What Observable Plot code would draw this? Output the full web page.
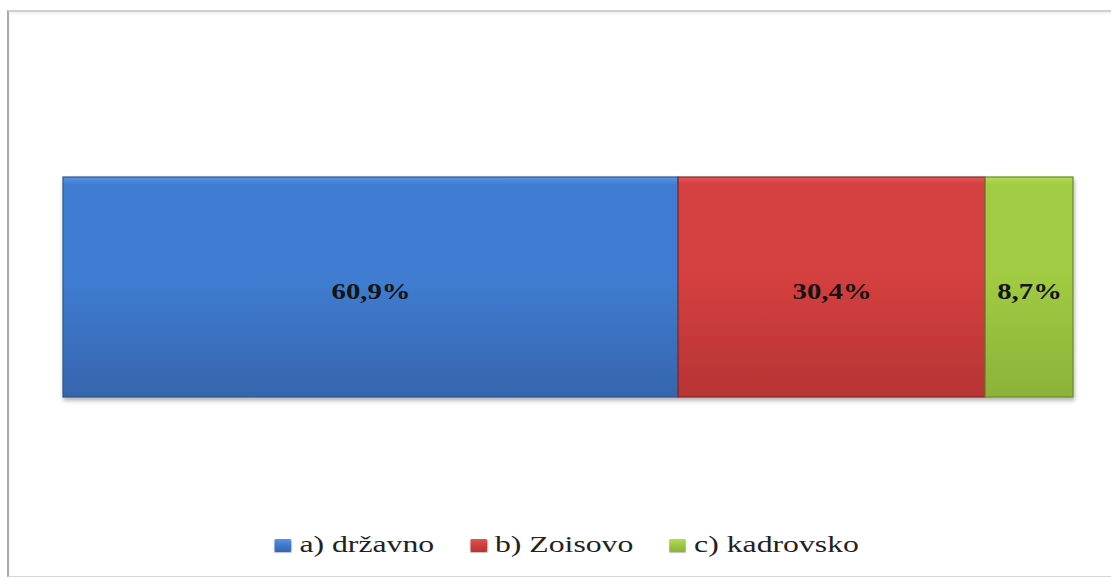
<!DOCTYPE html>
<html>
<head>
<meta charset="utf-8">
<script src="https://cdn.jsdelivr.net/npm/d3@7"></script>
<script src="https://cdn.jsdelivr.net/npm/@observablehq/plot@0.6"></script>
<style>
  html, body { margin: 0; padding: 0; background: #fff; }
  #wrap { position: relative; width: 1111px; height: 578px; overflow: hidden; background: #fff; }
  #frame { position: absolute; left: 7px; top: 10px; width: 1120px; height: 564px;
    border-top: 2px solid #cfcfcf; border-left: 2px solid #a9a9a9; border-bottom: 1px solid #d6d6d6;
    box-shadow: inset 0 2px 3px rgba(0,0,0,0.06); }
  #chart { position: absolute; left: 0; top: 0; }
  #legend { position: absolute; left: 0; top: 529px; width: 1111px; height: 32px;
    display: flex; justify-content: center; align-items: center;
    font-family: "Liberation Serif", "DejaVu Serif", "Noto Serif", serif; font-size: 23px; color: #222; }
  #legend .inner { display: flex; align-items: center; transform: translateX(11px) scaleX(1.38); transform-origin: center; }
  #legend .item { display: flex; align-items: center; margin: 0 13px; }
  #legend .sw { width: 12px; height: 13px; margin-right: 6px; border-radius: 1px; box-shadow: 0 1px 1px rgba(0,0,0,0.25); }
</style>
</head>
<body>
<div id="wrap">
  <div id="frame"></div>
  <div id="chart"></div>
  <div id="legend"><div class="inner"></div></div>
</div>
<script>
// Data
const categories = ["a) državno", "b) Zoisovo", "c) kadrovsko"];
const values = [60.9, 30.4, 8.7];
const labels = ["60,9%", "30,4%", "8,7%"];

// Styles
const gradTop = ["#5a95e2", "#e25656", "#b4dc55"];
const gradMid = ["#3f7dd2", "#d53f3f", "#a0cb42"];
const gradBot = ["#3665ad", "#b73434", "#8cb23a"];
const edge = ["#2d5590", "#872828", "#6a8a28"];
const serif = "'Liberation Serif', 'DejaVu Serif', 'Noto Serif', serif";

const data = categories.map((c, i) => ({category: c, value: values[i], label: labels[i]}));

const W = 1111, H = 525;
const plot = Plot.plot({
  width: W,
  height: H,
  marginLeft: 63,
  marginRight: 38,
  marginTop: 177,
  marginBottom: H - 397,
  x: {domain: [0, 100], axis: null},
  color: {domain: categories, range: categories.map((c, i) => `url(#grad${i})`)},
  style: {background: "transparent", overflow: "visible"},
  marks: [
    Plot.barX(data, {x: "value", fill: "category", stroke: (d) => d.category, strokeWidth: 1.2, inset: 0}),
    Plot.text(data, Plot.stackX({
      x: "value",
      text: "label",
      fill: "#141414",
      fontSize: 23,
      fontWeight: "bold",
      fontFamily: serif,
      dy: 4
    }))
  ]
});
document.getElementById("chart").appendChild(plot);

const svg = d3.select(plot);
const defs = svg.insert("defs", ":first-child");
categories.forEach((c, i) => {
  const g = defs.append("linearGradient").attr("id", `grad${i}`).attr("x1", 0).attr("y1", 0).attr("x2", 0).attr("y2", 1);
  g.append("stop").attr("offset", "0").attr("stop-color", gradTop[i]);
  g.append("stop").attr("offset", "0.035").attr("stop-color", gradMid[i]);
  g.append("stop").attr("offset", "0.45").attr("stop-color", gradMid[i]);
  g.append("stop").attr("offset", "1").attr("stop-color", gradBot[i]);
});
const f = defs.append("filter").attr("id", "shadow").attr("x", "-5%").attr("y", "-10%").attr("width", "110%").attr("height", "130%");
f.append("feDropShadow").attr("dx", 1).attr("dy", 3).attr("stdDeviation", 2).attr("flood-color", "#000").attr("flood-opacity", 0.3);

svg.selectAll("g[aria-label='bar']").attr("filter", "url(#shadow)");
svg.selectAll("g[aria-label='bar'] rect").each(function(d, i) {
  d3.select(this).attr("stroke", edge[i % edge.length]);
});

// Stretch labels horizontally like the reference
svg.selectAll("g[aria-label='text'] text").each(function() {
  const w = this.getComputedTextLength();
  this.setAttribute("textLength", (w * 1.25).toFixed(1));
  this.setAttribute("lengthAdjust", "spacingAndGlyphs");
});

// Legend
const inner = d3.select("#legend .inner");
categories.forEach((c, i) => {
  const it = inner.append("div").attr("class", "item");
  it.append("div").attr("class", "sw")
    .style("background", `linear-gradient(${gradTop[i]}, ${gradMid[i]} 40%, ${gradBot[i]})`);
  it.append("span").text(c);
});
</script>
</body>
</html>
